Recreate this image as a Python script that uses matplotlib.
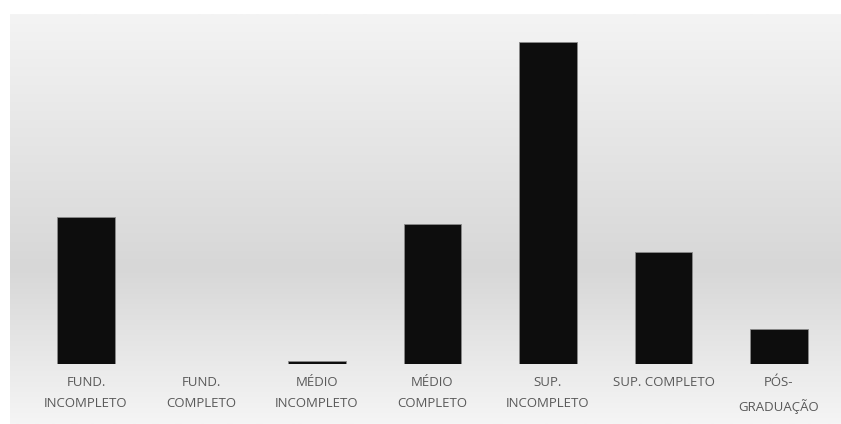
import matplotlib.pyplot as plt
import numpy as np
from matplotlib.colors import LinearSegmentedColormap

categorias = ['FUND.\nINCOMPLETO', 'FUND.\nCOMPLETO', 'MÉDIO\nINCOMPLETO', 'MÉDIO\nCOMPLETO',
              'SUP.\nINCOMPLETO', 'SUP. COMPLETO', 'PÓS-\nGRADUAÇÃO']
valores = [42, 0, 1, 40, 92, 32, 10]

fig = plt.figure(figsize=(8.41, 4.24), dpi=100)

# fundo em degradê
bg = fig.add_axes([10/841, 0, 831/841, 410/424])
cmap = LinearSegmentedColormap.from_list('bg', [(0, '#f4f4f4'), (0.62, '#d7d7d7'), (1, '#f5f5f5')])
grad = np.linspace(0, 1, 256).reshape(-1, 1)
bg.imshow(grad, cmap=cmap, aspect='auto', extent=[0, 1, 0, 1], vmin=0, vmax=1)
bg.axis('off')

ax = fig.add_axes([10/841, 60/424, 831/841, 350/424])
ax.patch.set_alpha(0)
x = np.arange(len(categorias))
ax.bar(x, valores, width=0.5, color='#0d0d0d', edgecolor='#8a8a8a', linewidth=0.6)
ax.set_xlim(-0.658, 6.537)
ax.set_ylim(0, 100)
ax.set_yticks([])
ax.set_xticks(x)
ax.set_xticklabels(categorias, fontsize=9.5, color='#595959', family='Open Sans', linespacing=1.85)
ax.tick_params(axis='x', length=0, pad=8.5)
for s in ax.spines.values():
    s.set_visible(False)

fig.savefig('out.png', dpi=100)
